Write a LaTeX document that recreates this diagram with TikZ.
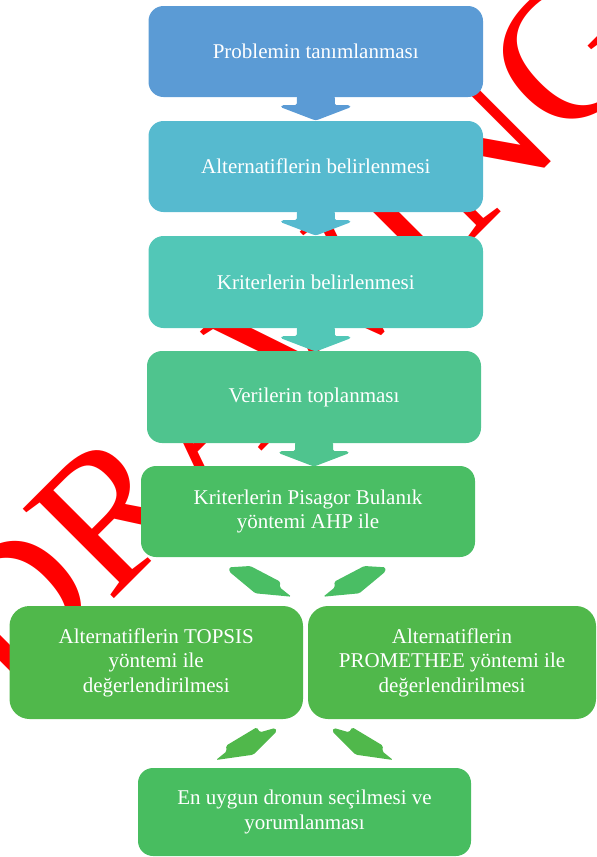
\documentclass[tikz,border=0pt]{standalone}
\usepackage{fontspec}
\setmainfont{Liberation Serif}
\usetikzlibrary{calc}
\definecolor{cA}{RGB}{91,155,213}
\definecolor{cB}{RGB}{86,186,207}
\definecolor{cC}{RGB}{82,199,183}
\definecolor{cD}{RGB}{79,196,142}
\definecolor{cE}{RGB}{74,190,100}
\definecolor{cF}{RGB}{80,184,75}
\definecolor{cG}{RGB}{72,189,96}
\definecolor{wm}{RGB}{255,0,0}
\newcommand\vdarrow[2]{%
  \fill[#2, rounded corners=1.5pt]
    ($(#1)+(-19,-1)$) -- ($(#1)+(19,-1)$) -- ($(#1)+(19,8)$) -- ($(#1)+(34,8)$) --
    ($(#1)+(35,10)$) -- ($(#1)+(1,23)$) -- ($(#1)+(-1,23)$) -- ($(#1)+(-35,10)$) --
    ($(#1)+(-34,8)$) -- ($(#1)+(-19,8)$) -- cycle;}
\begin{document}
\begin{tikzpicture}[x=1pt,y=-1pt,
  box/.style={rounded corners=15pt, inner sep=0pt, align=center, text=white,
    font=\fontsize{21}{24.5}\selectfont},
  bigbox/.style={box, rounded corners=20pt}]
\useasboundingbox (0,0) rectangle (597,857);
\clip (0,0) rectangle (597,857);
% watermark
\node[rotate=45, anchor=base west, text=wm, inner sep=0pt,
  font=\fontsize{195}{195}\selectfont] (wmk) at (10,703) {DRAWING};
% boxes
\node[box, fill=cA, minimum width=334.5pt, minimum height=91pt] (b1) at (315.75,51.5) {Problemin tanımlanması};
\node[box, fill=cB, minimum width=334.5pt, minimum height=91pt] (b2) at (315.75,166.5) {Alternatiflerin belirlenmesi};
\node[box, fill=cC, minimum width=334.5pt, minimum height=92pt] (b3) at (315.75,282) {Kriterlerin belirlenmesi};
\node[box, fill=cD, minimum width=334pt, minimum height=92pt] (b4) at (314,397) {Verilerin toplanması};
\node[box, fill=cE, minimum width=334pt, minimum height=91pt] (b5) at (308,511.5) {Kriterlerin Pisagor Bulanık\\yöntemi AHP ile};
\node[bigbox, fill=cF, minimum width=293.5pt, minimum height=113pt] (b6) at (156.25,662.5) {Alternatiflerin TOPSIS\\yöntemi ile\\değerlendirilmesi};
\node[bigbox, fill=cF, minimum width=288pt, minimum height=113pt] (b7) at (452,662.5) {Alternatiflerin\\PROMETHEE yöntemi ile\\değerlendirilmesi};
\node[box, fill=cG, minimum width=333pt, minimum height=88pt] (b8) at (304.5,812) {En uygun dronun seçilmesi ve\\yorumlanması};
% vertical arrows
\vdarrow{b1.south}{cA}
\vdarrow{b2.south}{cB}
\vdarrow{b3.south}{cC}
\vdarrow{b4.south}{cD}
% diagonal arrows (top pair)
\fill[cE, rounded corners=1.5pt] (229.3,567.3) -- (250.3,566) -- (280.3,581.7) -- (279.7,587.3) -- (291.3,596.7) -- (255.3,593.3) -- (229.3,571.7) -- cycle;
\begin{scope}[shift={(614.6,0)}, xscale=-1]
\fill[cE, rounded corners=1.5pt] (229.3,567.3) -- (250.3,566) -- (280.3,581.7) -- (279.7,587.3) -- (291.3,596.7) -- (255.3,593.3) -- (229.3,571.7) -- cycle;
\end{scope}
% diagonal arrows (bottom pair)
\fill[cF, rounded corners=1.5pt] (226,745.7) -- (256.7,727.3) -- (260,732.3) -- (275,728) -- (276.7,731.3) -- (253.3,754.7) -- (216,760) -- (226.7,751.3) -- cycle;
\begin{scope}[shift={(609,0)}, xscale=-1]
\fill[cF, rounded corners=1.5pt] (226,745.7) -- (256.7,727.3) -- (260,732.3) -- (275,728) -- (276.7,731.3) -- (253.3,754.7) -- (216,760) -- (226.7,751.3) -- cycle;
\end{scope}
\end{tikzpicture}
\end{document}
